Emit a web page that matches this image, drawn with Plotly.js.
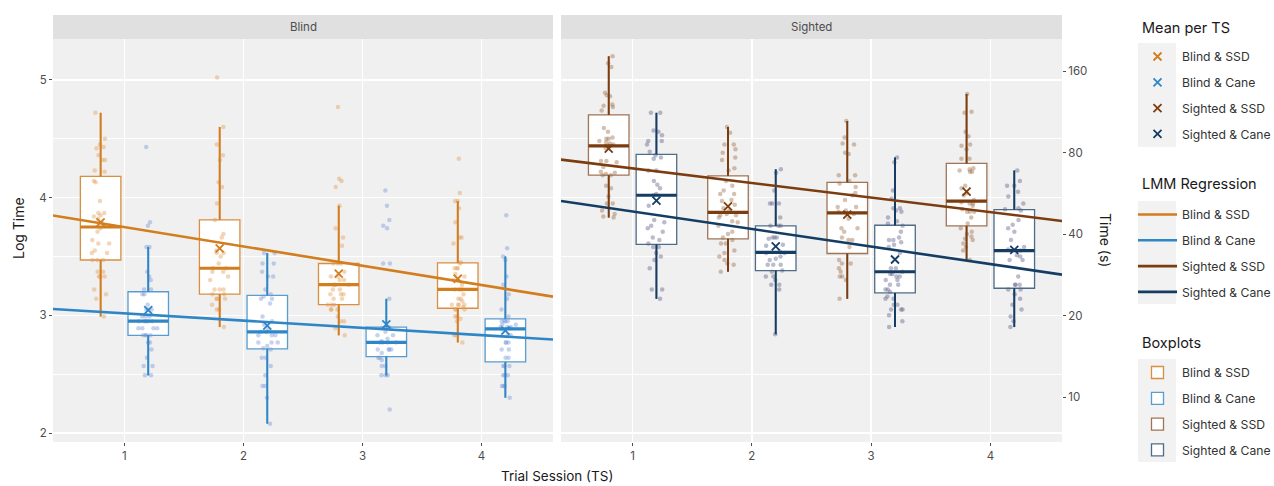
<!DOCTYPE html>
<html><head><meta charset="utf-8">
<script src="https://cdn.plot.ly/plotly-3.0.1.min.js"></script>
<style>html,body{margin:0;padding:0;background:#fff}#chart{width:1274px;height:486px}</style>
</head><body><div id="chart"></div>
<script>
// ---------------- data (log seconds) ----------------
const sessions = [1, 2, 3, 4];
const sessionLabels = ['1', '2', '3', '4'];
const panelNames = ['Blind', 'Sighted'];
const groupNames = ['Blind & SSD', 'Blind & Cane', 'Sighted & SSD', 'Sighted & Cane'];
const legendTitles = ['Mean per TS', 'LMM Regression', 'Boxplots'];

const blindSSD_TS1 = [4.72,4.50,4.45,4.43,4.42,4.36,4.32,4.32,4.23,4.22,4.14,4.13,3.97,3.87,3.87,3.85,3.84,3.82,3.79,3.76,3.74,3.71,3.64,3.61,3.61,3.55,3.53,3.53,3.47,3.47,3.47,3.37,3.37,3.33,3.33,3.33,3.22,3.18,3.14,2.99];
const blindSSD_TS2 = [5.02,4.60,4.45,4.36,4.32,4.13,4.09,3.95,3.81,3.69,3.66,3.55,3.53,3.53,3.50,3.44,3.40,3.40,3.37,3.37,3.33,3.30,3.22,3.22,3.22,3.18,3.18,3.14,3.14,3.14,3.09,3.05,3.05,2.90];
const blindSSD_TS3 = [4.77,4.16,4.14,4.09,3.93,3.74,3.66,3.59,3.44,3.44,3.44,3.37,3.33,3.33,3.30,3.30,3.26,3.26,3.26,3.22,3.22,3.18,3.18,3.18,3.14,3.14,3.09,3.09,3.09,3.05,3.05,3.05,2.99,2.95,2.95,2.89,2.83];
const blindSSD_TS4 = [4.33,4.04,3.97,3.97,3.91,3.79,3.66,3.66,3.61,3.45,3.44,3.40,3.40,3.40,3.35,3.33,3.30,3.26,3.22,3.22,3.22,3.18,3.14,3.14,3.12,3.09,3.09,3.09,3.09,3.07,3.05,3.05,3.05,2.99,2.99,2.97,2.95,2.83,2.83,2.77];

const blindCane_TS1 = [4.43,3.79,3.76,3.58,3.58,3.37,3.33,3.30,3.22,3.22,3.18,3.18,3.09,3.05,3.05,3.05,2.99,2.99,2.99,2.95,2.95,2.95,2.95,2.95,2.89,2.89,2.89,2.89,2.83,2.83,2.83,2.83,2.77,2.77,2.71,2.64,2.57,2.57,2.49,2.49];
const blindCane_TS2 = [3.53,3.53,3.44,3.44,3.37,3.33,3.33,3.22,3.18,3.16,3.14,3.14,3.10,2.99,2.95,2.92,2.88,2.86,2.86,2.83,2.83,2.83,2.77,2.77,2.77,2.74,2.72,2.71,2.64,2.64,2.57,2.49,2.40,2.40,2.30,2.08];
const blindCane_TS3 = [4.06,3.93,3.81,3.76,3.74,3.44,3.44,3.14,2.90,2.90,2.89,2.89,2.86,2.83,2.83,2.80,2.78,2.77,2.77,2.77,2.77,2.71,2.71,2.71,2.71,2.68,2.64,2.64,2.62,2.57,2.57,2.49,2.49,2.49,2.20];
const blindCane_TS4 = [3.85,3.57,3.50,3.47,3.33,3.26,3.18,3.14,3.05,2.99,2.95,2.95,2.95,2.95,2.92,2.92,2.90,2.90,2.90,2.89,2.88,2.83,2.83,2.77,2.77,2.77,2.71,2.71,2.64,2.64,2.57,2.57,2.57,2.49,2.49,2.49,2.40,2.40,2.40,2.30];

const sightedSSD_TS1 = [5.20,5.14,5.11,4.89,4.87,4.86,4.79,4.78,4.77,4.74,4.59,4.56,4.51,4.50,4.50,4.48,4.47,4.46,4.45,4.44,4.42,4.31,4.31,4.30,4.26,4.22,4.21,4.20,4.19,4.19,4.10,4.08,4.01,3.95,3.95,3.89,3.86,3.84,3.83];
const sightedSSD_TS2 = [4.60,4.55,4.45,4.45,4.41,4.38,4.34,4.32,4.25,4.23,4.14,4.10,4.06,4.03,4.03,3.98,3.97,3.94,3.91,3.89,3.86,3.85,3.85,3.83,3.80,3.79,3.76,3.71,3.69,3.66,3.64,3.61,3.61,3.55,3.53,3.50,3.47,3.44,3.43,3.37];
const sightedSSD_TS3 = [4.65,4.51,4.46,4.45,4.38,4.37,4.19,4.19,4.14,4.12,4.09,4.04,4.02,3.98,3.92,3.92,3.89,3.88,3.86,3.82,3.74,3.74,3.71,3.66,3.64,3.64,3.58,3.47,3.44,3.44,3.40,3.37,3.33,3.33,3.30,3.14];
const sightedSSD_TS4 = [4.88,4.73,4.72,4.56,4.52,4.45,4.44,4.41,4.33,4.33,4.25,4.24,4.23,4.22,4.22,4.10,4.08,4.04,4.02,3.98,3.96,3.95,3.95,3.93,3.90,3.88,3.88,3.88,3.83,3.78,3.74,3.71,3.69,3.67,3.65,3.64,3.61,3.58,3.55,3.47];

const sightedCane_TS1 = [4.72,4.72,4.57,4.56,4.53,4.48,4.48,4.45,4.39,4.36,4.34,4.33,4.23,4.23,4.14,4.11,4.08,4.03,4.02,3.93,3.81,3.79,3.76,3.74,3.71,3.66,3.64,3.61,3.58,3.58,3.53,3.50,3.47,3.40,3.22,3.22,3.14];
const sightedCane_TS2 = [4.24,4.21,4.06,3.95,3.95,3.95,3.83,3.76,3.76,3.76,3.66,3.66,3.66,3.65,3.60,3.59,3.53,3.54,3.53,3.50,3.48,3.47,3.43,3.43,3.43,3.38,3.37,3.33,3.33,3.30,3.26,3.26,3.22,2.84];
const sightedCane_TS3 = [4.34,4.30,4.06,3.99,3.91,3.91,3.89,3.88,3.83,3.80,3.78,3.76,3.71,3.66,3.64,3.64,3.62,3.60,3.58,3.53,3.40,3.40,3.37,3.35,3.35,3.33,3.33,3.30,3.30,3.26,3.26,3.22,3.22,3.20,3.16,3.14,3.14,3.09,3.09,3.05,3.05,3.05,3.00,2.95,2.90];
const sightedCane_TS4 = [4.23,4.14,4.10,4.10,4.05,4.01,3.95,3.91,3.90,3.89,3.81,3.77,3.74,3.71,3.64,3.58,3.56,3.55,3.51,3.50,3.47,3.47,3.33,3.26,3.26,3.26,3.22,3.22,3.18,3.14,3.09,3.05,2.99,2.95,2.90];

const blindSSD = [blindSSD_TS1, blindSSD_TS2, blindSSD_TS3, blindSSD_TS4];
const blindCane = [blindCane_TS1, blindCane_TS2, blindCane_TS3, blindCane_TS4];
const sightedSSD = [sightedSSD_TS1, sightedSSD_TS2, sightedSSD_TS3, sightedSSD_TS4];
const sightedCane = [sightedCane_TS1, sightedCane_TS2, sightedCane_TS3, sightedCane_TS4];

// LMM regression (log time = intercept + slope * TS)
const regIntercept = [3.913, 3.078, 4.372, 4.031];
const regSlope = [-0.164, -0.0617, -0.124, -0.149];

// right-hand axis (seconds)
const timeTicks = [10, 20, 40, 80, 160];

// ---------------- styling ----------------
const FONT = 'Inter, "Open Sans", "DejaVu Sans", sans-serif';
const W = 1274, H = 486;
const lineColors = ['#D27D1E', '#2F86C6', '#7B3C0F', '#153D64'];
const boxLineColors = ['rgba(210,125,30,0.85)', 'rgba(47,134,198,0.8)', 'rgba(123,60,15,0.7)', 'rgba(21,61,100,0.75)'];
const pointColors = ['#E39B55', '#7497D8', '#9C6B44', '#5B5E86'];
const dodge = [-0.2, 0.2, -0.2, 0.2];
const panelOf = [0, 0, 1, 1];
const groupData = [blindSSD, blindCane, sightedSSD, sightedCane];
const boxW = 0.34;
const xRange = [0.4, 4.6];
const yRange = [1.924, 5.347];
const xDom = [[53 / W, 553 / W], [561 / W, 1062 / W]];
const yDom = [1 - 442 / H, 1 - 39 / H];

// plotly 'linear' quartile interpolation
function interp(arr, n) {
  let k = n * arr.length - 0.5;
  if (k < 0) return arr[0];
  if (k > arr.length - 1) return arr[arr.length - 1];
  const f = k % 1;
  return f * arr[Math.ceil(k)] + (1 - f) * arr[Math.floor(k)];
}
function stats(vals) {
  const s = vals.slice().sort((a, b) => a - b);
  const q1 = interp(s, 0.25), med = interp(s, 0.5), q3 = interp(s, 0.75);
  const iqr = q3 - q1;
  const lo = s.filter(v => v >= q1 - 1.5 * iqr);
  const hi = s.filter(v => v <= q3 + 1.5 * iqr);
  const mean = s.reduce((a, b) => a + b, 0) / s.length;
  return { q1, med, q3, lf: Math.min(q1, lo[0]), uf: Math.max(q3, hi[hi.length - 1]), mean };
}

const traces = [];
const xa = p => (p === 0 ? 'x' : 'x2');
const ya = p => (p === 0 ? 'y' : 'y2');

// boxes with jittered points
groupData.forEach((g, i) => {
  const xs = [], ys = [];
  g.forEach((vals, s) => vals.forEach(v => { xs.push(sessions[s] + dodge[i]); ys.push(v); }));
  traces.push({
    type: 'box', x: xs, y: ys, xaxis: xa(panelOf[i]), yaxis: ya(panelOf[i]),
    name: groupNames[i], legend: 'legend3', legendgroup: 'box' + i,
    boxpoints: 'all', jitter: 0.55, pointpos: 0, width: boxW, whiskerwidth: 0,
    quartilemethod: 'linear', fillcolor: 'white',
    line: { color: boxLineColors[i], width: 1.3 },
    marker: { color: pointColors[i], size: 4.5, opacity: 0.42 },
    hoverinfo: 'skip'
  });
});

// whisker + median overlays (solid, thicker)
groupData.forEach((g, i) => {
  const wx = [], wy = [], mx = [], my = [];
  g.forEach((vals, s) => {
    const st = stats(vals), c = sessions[s] + dodge[i];
    wx.push(c, c, null, c, c, null); wy.push(st.q3, st.uf, null, st.q1, st.lf, null);
    mx.push(c - boxW / 2, c + boxW / 2, null); my.push(st.med, st.med, null);
  });
  traces.push({ type: 'scatter', mode: 'lines', x: wx, y: wy, xaxis: xa(panelOf[i]), yaxis: ya(panelOf[i]),
    line: { color: lineColors[i], width: 2 }, showlegend: false, hoverinfo: 'skip' });
  traces.push({ type: 'scatter', mode: 'lines', x: mx, y: my, xaxis: xa(panelOf[i]), yaxis: ya(panelOf[i]),
    line: { color: lineColors[i], width: 3.2 }, showlegend: false, hoverinfo: 'skip' });
});

// means
groupData.forEach((g, i) => {
  traces.push({
    type: 'scatter', mode: 'markers', name: groupNames[i], legend: 'legend', legendgroup: 'mean' + i,
    x: sessions.map(s => s + dodge[i]), y: g.map(v => stats(v).mean),
    xaxis: xa(panelOf[i]), yaxis: ya(panelOf[i]),
    marker: { symbol: 'x-thin', size: 8, color: lineColors[i], line: { color: lineColors[i], width: 1.8 } },
    hoverinfo: 'skip'
  });
});

// regression lines
groupData.forEach((g, i) => {
  traces.push({
    type: 'scatter', mode: 'lines', name: groupNames[i], legend: 'legend2', legendgroup: 'reg' + i,
    x: xRange, y: xRange.map(x => regIntercept[i] + regSlope[i] * x),
    xaxis: xa(panelOf[i]), yaxis: ya(panelOf[i]),
    line: { color: lineColors[i], width: 2.6 }, hoverinfo: 'skip'
  });
});

// carrier for the secondary (seconds) axis
traces.push({ type: 'scatter', mode: 'markers', x: [null], y: [null], xaxis: 'x2', yaxis: 'y3', showlegend: false, hoverinfo: 'skip' });

const tickFont = { family: FONT, size: 11.5, color: '#4d4d4d' };
const xBase = {
  range: xRange, tickvals: sessions, ticktext: sessionLabels, showgrid: true, gridcolor: '#ffffff', gridwidth: 1.6,
  zeroline: false, showline: false, ticks: 'outside', ticklen: 3, tickwidth: 1, tickcolor: '#4d4d4d',
  tickfont: tickFont, fixedrange: true, automargin: false
};
const yBase = {
  range: yRange, domain: yDom, tickvals: [2, 3, 4, 5], showgrid: true, gridcolor: '#ffffff', gridwidth: 1.6,
  minor: { tick0: 0, dtick: 0.5, showgrid: true, gridcolor: '#ffffff', gridwidth: 0.9, ticks: '' },
  zeroline: false, showline: false, tickfont: tickFont, fixedrange: true, automargin: false
};

const legendBase = {
  xanchor: 'left', yanchor: 'top', bgcolor: 'rgba(0,0,0,0)', borderwidth: 0,
  font: { family: FONT, size: 12.2, color: '#333333' }, traceorder: 'grouped', tracegroupgap: 6.8,
  itemwidth: 39, itemclick: false, itemdoubleclick: false
};
const legTitleFont = { family: FONT, size: 14.5, color: '#1a1a1a' };

const keyBg = (y0, y1) => ({ type: 'rect', xref: 'paper', yref: 'paper', x0: 1138 / W, x1: 1176 / W,
  y0: 1 - y1 / H, y1: 1 - y0 / H, fillcolor: '#f2f2f2', line: { width: 0 }, layer: 'below' });
const legTitle = (txt, yc) => ({ text: txt, xref: 'paper', yref: 'paper', x: 1140 / W, y: 1 - yc / H,
  showarrow: false, xanchor: 'left', yanchor: 'middle', font: legTitleFont });

const layout = {
  width: W, height: H, margin: { l: 0, r: 0, t: 0, b: 0, pad: 0, autoexpand: false },
  paper_bgcolor: '#ffffff', plot_bgcolor: '#f0f0f0', font: { family: FONT },
  showlegend: true, boxmode: 'overlay',
  xaxis: Object.assign({}, xBase, { domain: xDom[0], anchor: 'y' }),
  xaxis2: Object.assign({}, xBase, { domain: xDom[1], anchor: 'y2' }),
  yaxis: Object.assign({}, yBase, { anchor: 'x', ticks: 'outside', ticklen: 3, tickcolor: '#4d4d4d' }),
  yaxis2: Object.assign({}, yBase, { anchor: 'x2', showticklabels: false, ticks: '' }),
  yaxis3: { range: yRange, domain: yDom, overlaying: 'y2', anchor: 'x2', side: 'right',
    tickvals: timeTicks.map(t => Math.log(t)), ticktext: timeTicks.map(String),
    showgrid: false, zeroline: false, showline: false, ticks: 'outside', ticklen: 3, tickcolor: '#4d4d4d',
    tickfont: tickFont, fixedrange: true, automargin: false },
  legend: Object.assign({}, legendBase, { x: 1133 / W, y: 1 - 42 / H }),
  legend2: Object.assign({}, legendBase, { x: 1133 / W, y: 1 - 200 / H }),
  legend3: Object.assign({}, legendBase, { x: 1133 / W, y: 1 - 358 / H }),
  shapes: [
    { type: 'rect', xref: 'paper', yref: 'paper', x0: xDom[0][0], x1: xDom[0][1], y0: yDom[1], y1: 1 - 15 / H, fillcolor: '#e0e0e0', line: { width: 0 } },
    { type: 'rect', xref: 'paper', yref: 'paper', x0: xDom[1][0], x1: xDom[1][1], y0: yDom[1], y1: 1 - 15 / H, fillcolor: '#e0e0e0', line: { width: 0 } },
    keyBg(43, 147), keyBg(201, 304), keyBg(359, 462)
  ],
  annotations: [
    { text: panelNames[0], xref: 'paper', yref: 'paper', x: (xDom[0][0] + xDom[0][1]) / 2, y: 1 - 27 / H, showarrow: false, xanchor: 'center', yanchor: 'middle', font: { family: FONT, size: 11.5, color: '#4d4d4d' } },
    { text: panelNames[1], xref: 'paper', yref: 'paper', x: (xDom[1][0] + xDom[1][1]) / 2, y: 1 - 27 / H, showarrow: false, xanchor: 'center', yanchor: 'middle', font: { family: FONT, size: 11.5, color: '#4d4d4d' } },
    { text: 'Log Time', xref: 'paper', yref: 'paper', x: 18 / W, y: 1 - 228 / H, showarrow: false, textangle: -90, xanchor: 'center', yanchor: 'middle', font: { family: FONT, size: 14, color: '#1a1a1a' } },
    { text: 'Trial Session (TS)', xref: 'paper', yref: 'paper', x: 557 / W, y: 1 - 476 / H, showarrow: false, xanchor: 'center', yanchor: 'middle', font: { family: FONT, size: 13.5, color: '#1a1a1a' } },
    { text: 'Time (s)', xref: 'paper', yref: 'paper', x: 1106 / W, y: 1 - 240 / H, showarrow: false, textangle: 90, xanchor: 'center', yanchor: 'middle', font: { family: FONT, size: 14, color: '#1a1a1a' } },
    legTitle(legendTitles[0], 27), legTitle(legendTitles[1], 184), legTitle(legendTitles[2], 342)
  ]
};

Plotly.newPlot('chart', traces, layout, { staticPlot: true, displayModeBar: false });
</script>
</body></html>
